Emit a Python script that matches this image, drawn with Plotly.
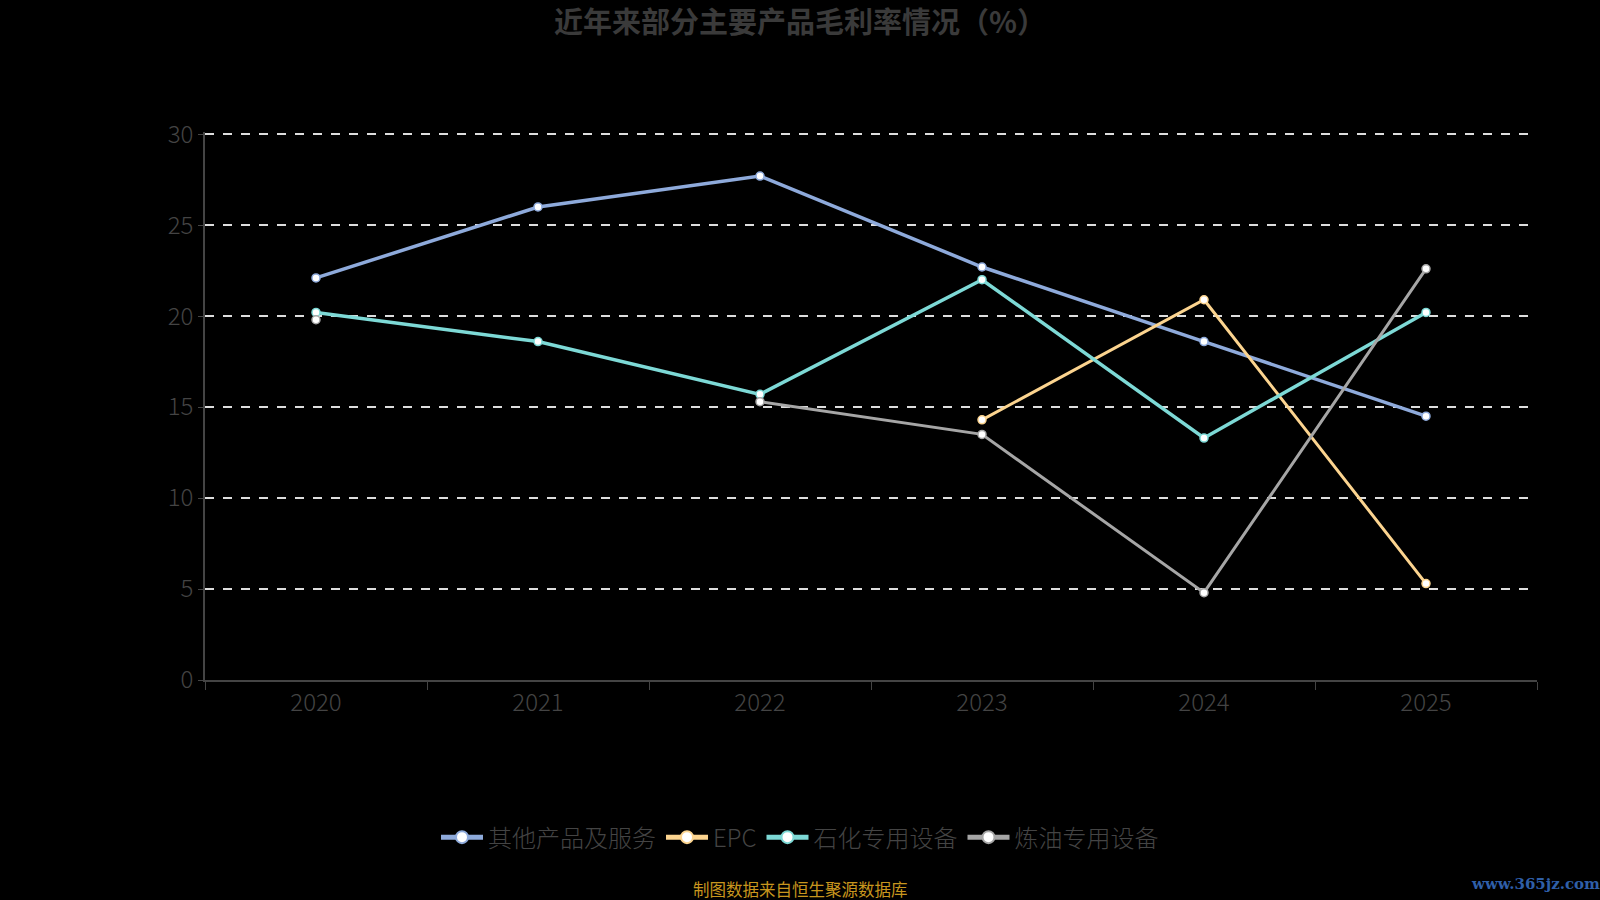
import plotly.graph_objects as go

years = ["2020", "2021", "2022", "2023", "2024", "2025"]

other_service = [22.1, 26.0, 27.7, 22.7, 18.6, 14.5]
epc = [None, None, None, 14.3, 20.9, 5.3]
petro_equip = [20.2, 18.6, 15.7, 22.0, 13.3, 20.2]
refine_equip = [19.8, None, 15.3, 13.5, 4.8, 22.6]

names = ["其他产品及服务", "EPC", "石化专用设备", "炼油专用设备"]
colors = ["#8eaadb", "#fcd48f", "#7dd9d6", "#a6a6a6"]
widths = [3.5, 3, 3.5, 3]

font_cn = "Noto Sans CJK SC"

fig = go.Figure()

for name, vals, c, w in zip(names, [other_service, epc, petro_equip, refine_equip], colors, widths):
    fig.add_trace(go.Scatter(
        x=years,
        y=vals,
        name=name,
        mode="lines+markers",
        connectgaps=False,
        line=dict(color=c, width=w),
        marker=dict(symbol="circle", size=8, color="#ffffff", line=dict(color=c, width=1.5)),
    ))

fig.update_layout(
    width=1600,
    height=900,
    paper_bgcolor="#000000",
    plot_bgcolor="#000000",
    margin=dict(l=205, r=63, t=132, b=220),
    font=dict(family=font_cn, color="#444444"),
    title=dict(
        text="<b>近年来部分主要产品毛利率情况（%）</b>",
        x=0.5, xanchor="center",
        y=1 - 23 / 900, yanchor="middle",
        font=dict(family=font_cn, size=29, color="#3a3a3a"),
    ),
    showlegend=True,
    legend=dict(
        orientation="h",
        x=(800 - 205) / 1332, xanchor="center",
        y=-0.2875, yanchor="middle",
        font=dict(family=font_cn, size=24, color="#444444", weight=300),
        itemsizing="constant",
        itemwidth=42,
        bgcolor="rgba(0,0,0,0)",
    ),
)

fig.update_xaxes(
    type="category",
    range=[-0.5, 5.5],
    tickson="boundaries",
    ticks="outside",
    ticklen=8,
    tickcolor="#444444",
    showline=True,
    linecolor="#444444",
    linewidth=1.5,
    showgrid=False,
    tickfont=dict(family=font_cn, size=24, color="#444444", weight=300),
)

fig.update_yaxes(
    range=[0, 30.12],
    tickvals=[0, 5, 10, 15, 20, 25, 30],
    ticks="outside",
    ticklen=5,
    tickcolor="#444444",
    showline=True,
    linecolor="#444444",
    linewidth=1.5,
    showgrid=True,
    gridcolor="#dddddd",
    griddash="dash",
    gridwidth=1.5,
    zeroline=False,
    tickfont=dict(family=font_cn, size=24, color="#444444", weight=300),
)

# 数据来源
fig.add_annotation(
    text="制图数据来自恒生聚源数据库",
    xref="paper", yref="paper",
    x=(800 - 205) / 1332, y=(680 - 889) / 548,
    xanchor="center", yanchor="middle",
    showarrow=False,
    font=dict(family=font_cn, size=16.5, color="#c8961e"),
)

# 水印
fig.add_annotation(
    text="<b>www.365jz.com</b>",
    xref="paper", yref="paper",
    x=(1535 - 205) / 1332, y=(680 - 884) / 548,
    xanchor="center", yanchor="middle",
    showarrow=False,
    font=dict(family="DejaVu Serif", size=15, color="#2f5fa8"),
)

fig.write_html(
    "out.html",
    config={"displayModeBar": False},
    post_script="document.body.style.margin='0px';document.body.style.overflow='hidden';",
)
